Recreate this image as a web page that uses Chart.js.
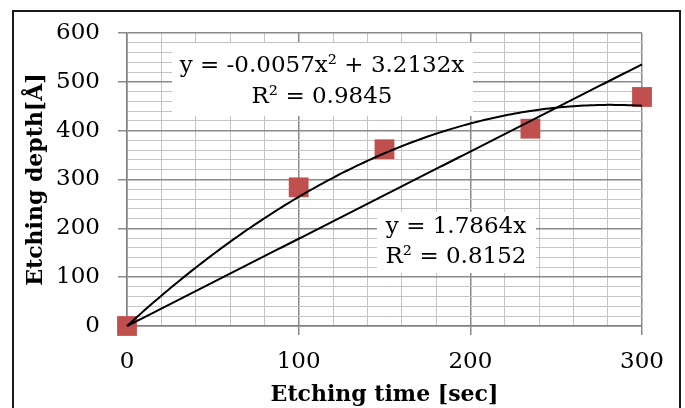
<!DOCTYPE html>
<html>
<head>
<meta charset="utf-8">
<script src="https://cdn.jsdelivr.net/npm/chart.js@4.4.1/dist/chart.umd.min.js"></script>
<style>
  html, body { margin: 0; padding: 0; background: #fff; }
  #wrap { width: 685px; height: 408px; position: relative; }
</style>
</head>
<body>
<div id="wrap"><canvas id="chart"></canvas></div>
<script>
// 数据
const etchTimes = [0, 100, 150, 235, 300];
const etchDepths = [0, 284, 362, 404, 469];

// 近似曲线系数 (c0, c1, c2)
const linearFit = [0, 1.7864];
const polyFit = [0, 3.2132, -0.0057];

const polyLabel = ['y = -0.0057x\u00b2 + 3.2132x', 'R\u00b2 = 0.9845'];
const linearLabel = ['y = 1.7864x', 'R\u00b2 = 0.8152'];

const serif = 'DejaVu Serif';
const majorColor = '#8a8a8a';
const minorColor = '#c4c4c4';

function isMajor(ctx) {
    return ctx.tick && ctx.tick.value % 100 === 0;
}

// 外框 + 近似曲线 + 文本框
const decorPlugin = {
    id: 'decor',
    beforeDraw(chart) {
        const c = chart.ctx;
        c.save();
        c.fillStyle = '#fff';
        c.fillRect(0, 0, chart.width, chart.height);
        c.strokeStyle = '#1a1a1a';
        c.lineWidth = 2;
        c.strokeRect(13, 11, 667, 420);
        c.restore();
    },
    beforeDatasetsDraw(chart) {
        const c = chart.ctx;
        c.save();
        c.fillStyle = '#fff';
        c.fillRect(172, 43, 301, 73);
        c.fillRect(377, 212, 159, 61);
        c.fillStyle = '#000';
        c.font = '23px "' + serif + '"';
        c.textAlign = 'center';
        c.textBaseline = 'middle';
        c.fillText(polyLabel[0], 322, 66);
        c.fillText(polyLabel[1], 322, 97);
        c.fillText(linearLabel[0], 456, 227);
        c.fillText(linearLabel[1], 456, 257);
        c.restore();
    },
    afterDatasetsDraw(chart) {
        const c = chart.ctx;
        const xs = chart.scales.x, ys = chart.scales.y;
        const drawFit = (coef) => {
            c.beginPath();
            for (let t = 0; t <= 300; t += 2) {
                let v = 0;
                coef.forEach((k, i) => { v += k * Math.pow(t, i); });
                const px = xs.getPixelForValue(t), py = ys.getPixelForValue(v);
                if (t === 0) c.moveTo(px, py); else c.lineTo(px, py);
            }
            c.stroke();
        };
        c.save();
        c.strokeStyle = '#000';
        c.lineWidth = 2;
        c.lineJoin = 'round';
        drawFit(linearFit);
        drawFit(polyFit);
        c.restore();
    }
};

new Chart(document.getElementById('chart'), {
    type: 'scatter',
    data: {
        datasets: [{
            data: etchTimes.map((t, i) => ({ x: t, y: etchDepths[i] })),
            pointStyle: 'rect',
            pointRadius: 14,
            pointHoverRadius: 14,
            backgroundColor: '#c0504d',
            borderColor: '#c0504d',
            borderWidth: 0,
            clip: false
        }]
    },
    options: {
        responsive: true,
        maintainAspectRatio: false,
        animation: false,
        layout: { padding: { left: 14, top: 33, right: 43, bottom: 0 } },
        plugins: {
            legend: { display: false },
            tooltip: { enabled: false }
        },
        scales: {
            x: {
                type: 'linear',
                min: 0,
                max: 300,
                afterFit(scale) { scale.height = 82; },
                ticks: {
                    stepSize: 20,
                    autoSkip: false,
                    maxRotation: 0,
                    padding: 13,
                    color: '#000',
                    font: { family: serif, size: 23 },
                    callback: v => (v % 100 === 0 ? v : '')
                },
                grid: {
                    color: ctx => (isMajor(ctx) ? majorColor : minorColor),
                    lineWidth: ctx => (isMajor(ctx) ? 1.5 : 1),
                    tickColor: ctx => (isMajor(ctx) ? majorColor : 'rgba(0,0,0,0)'),
                    tickLength: 9
                },
                border: { color: '#808080', width: 1.5 },
                title: {
                    display: true,
                    text: 'Etching time [sec]',
                    color: '#000',
                    font: { family: serif, size: 22, weight: 'bold' },
                    padding: { top: 4, bottom: 0 }
                }
            },
            y: {
                min: 0,
                max: 600,
                afterFit(scale) { scale.width = 113; },
                ticks: {
                    stepSize: 20,
                    autoSkip: false,
                    padding: 18,
                    color: '#000',
                    font: { family: serif, size: 23 },
                    callback: v => (v % 100 === 0 ? v : '')
                },
                grid: {
                    color: ctx => (isMajor(ctx) ? majorColor : minorColor),
                    lineWidth: ctx => (isMajor(ctx) ? 1.5 : 1),
                    tickColor: ctx => (isMajor(ctx) ? majorColor : 'rgba(0,0,0,0)'),
                    tickLength: 9
                },
                border: { color: '#808080', width: 1.5 },
                title: {
                    display: true,
                    text: 'Etching depth[Å]',
                    color: '#000',
                    font: { family: serif, size: 22, weight: 'bold' },
                    padding: { top: 9, bottom: 0 }
                }
            }
        }
    },
    plugins: [decorPlugin]
});
</script>
</body>
</html>
